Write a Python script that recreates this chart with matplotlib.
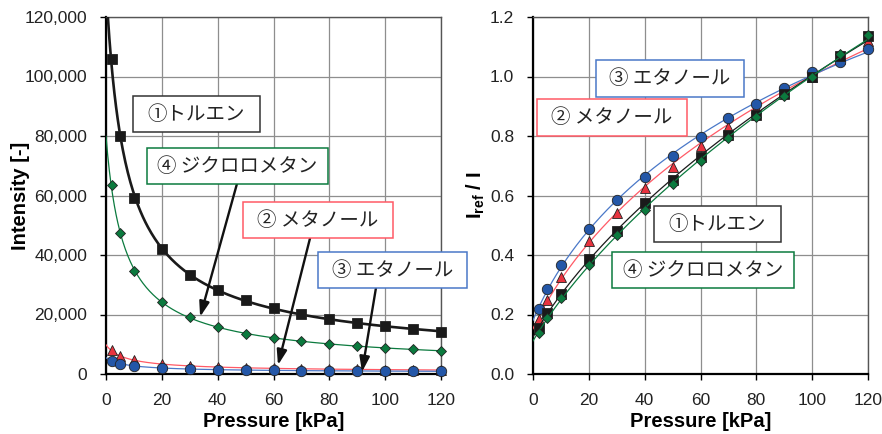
import numpy as np
import matplotlib
matplotlib.use("Agg")
import matplotlib.pyplot as plt
from matplotlib.patches import Rectangle

plt.rcParams['font.family'] = ['Liberation Sans', 'DejaVu Sans']
plt.rcParams['mathtext.fontset'] = 'custom'
plt.rcParams['mathtext.rm'] = 'Liberation Sans'
plt.rcParams['mathtext.bf'] = 'Liberation Sans:bold'

# ---------------- data ----------------
pressure = [2, 5, 10, 20, 30, 40, 50, 60, 70, 80, 90, 100, 110, 120]

# Intensity [-] (left)
int_toluene = [106000, 80000, 59000, 42000, 33300, 28400, 24800, 22300, 20100, 18600, 17000, 16100, 15100, 14100]
int_dcm = [63500, 47400, 34700, 24100, 19000, 15800, 13600, 12200, 11000, 10200, 9400, 8900, 8250, 7600]
int_methanol = [8000, 6000, 4600, 3300, 2700, 2350, 2100, 1900, 1770, 1650, 1550, 1470, 1390, 1310]
int_ethanol = [4500, 3500, 2650, 2000, 1660, 1480, 1330, 1230, 1140, 1080, 1020, 960, 930, 900]

# I_ref / I (right)
rat_toluene = [0.154, 0.204, 0.268, 0.386, 0.482, 0.576, 0.652, 0.730, 0.803, 0.870, 0.940, 1.000, 1.070, 1.135]
rat_dcm = [0.139, 0.187, 0.254, 0.366, 0.467, 0.551, 0.638, 0.715, 0.792, 0.865, 0.935, 0.999, 1.075, 1.139]
rat_methanol = [0.184, 0.249, 0.325, 0.447, 0.540, 0.624, 0.697, 0.767, 0.831, 0.893, 0.945, 1.000, 1.060, 1.120]
rat_ethanol = [0.217, 0.285, 0.365, 0.487, 0.584, 0.661, 0.732, 0.797, 0.859, 0.907, 0.960, 1.015, 1.048, 1.092]

labels = {'toluene': '①トルエン', 'methanol': '② メタノール',
          'ethanol': '③ エタノール', 'dcm': '④ ジクロロメタン'}

x_ticks = [0, 20, 40, 60, 80, 100, 120]
y_ticks_left = [0, 20000, 40000, 60000, 80000, 100000, 120000]
y_ticks_right = [0.0, 0.2, 0.4, 0.6, 0.8, 1.0, 1.2]

# ---------------- styles ----------------
C_BLACK = '#1a1a1a'
C_GREEN = '#0b7a3e'
C_RED = '#e8333f'
C_BLUE = '#2457a8'
L_RED = '#ff5a66'
L_BLUE = '#4a78c8'
JP = ['Noto Sans CJK JP', 'DejaVu Sans']

fig = plt.figure(figsize=(8.82, 4.34), dpi=100)
axL = fig.add_axes([106/882, 60/434, 335/882, 357/434])
axR = fig.add_axes([533/882, 60/434, 335/882, 357/434])

P = np.array(pressure, dtype=float)
Pf = np.linspace(0, 120, 400)
OFFSET = 6.0


def fit_curve(x, y):
    u = np.log(np.asarray(x, dtype=float) + OFFSET)
    coef = np.polyfit(u, np.log(np.asarray(y, dtype=float)), 2)
    return np.exp(np.polyval(coef, np.log(Pf + OFFSET)))


def style_axes(ax):
    ax.set_xlim(0, 120)
    ax.set_xticks(x_ticks)
    ax.grid(True, color='#8e8e8e', lw=0.9)
    ax.set_axisbelow(True)
    ax.tick_params(direction='out', length=4.5, width=1, colors='black',
                   labelsize=12.5, labelcolor='#222222', pad=9)
    for s in ['left', 'bottom']:
        ax.spines[s].set_color('black')
        ax.spines[s].set_linewidth(1.6)
    for s in ['top', 'right']:
        ax.spines[s].set_color('#555555')
        ax.spines[s].set_linewidth(1.0)
    ax.set_xlabel('Pressure [kPa]', fontsize=14.5, fontweight='bold', labelpad=3)


# ---------------- left ----------------
series_left = [
    (int_dcm, C_GREEN, C_GREEN, 'D', 5.5, 0.9, 4),
    (int_toluene, C_BLACK, C_BLACK, 's', 7.5, 1.9, 5),
    (int_methanol, C_RED, L_RED, '^', 7.5, 0.9, 3),
    (int_ethanol, C_BLUE, L_BLUE, 'o', 7.5, 0.9, 3.5),
]
for vals, mc, lc, mk, ms, lw, z in series_left:
    curve = fit_curve(P, vals)
    axL.plot(Pf, curve, color=lc, lw=lw, zorder=z, clip_on=True)
    axL.plot(P, vals, ls='none', marker=mk, ms=ms, mfc=mc, mec='#222222',
             mew=0.6, zorder=z + 0.1, clip_on=False)

axL.set_ylim(0, 120000)
axL.set_yticks(y_ticks_left)
axL.set_yticklabels([f'{v:,}' for v in y_ticks_left])
style_axes(axL)
axL.set_ylabel('Intensity [-]', fontsize=14.5, fontweight='bold', labelpad=-4)


def box(ax, x0, x1, y0, y1, text, ec):
    ax.add_patch(Rectangle((x0, y0), x1 - x0, y1 - y0, transform=ax.transAxes,
                           fc='white', ec=ec, lw=1.1, zorder=8, clip_on=False))
    ax.text((x0 + x1) / 2, (y0 + y1) / 2, text, transform=ax.transAxes,
            ha='center', va='center', fontsize=14, family=JP, color='#222222',
            zorder=9, clip_on=False)


def fx(px, x0):
    return (px - x0) / 335.0


def fy(py):
    return (374 - py) / 357.0


box(axL, fx(133, 106), fx(260, 106), fy(132), fy(96), labels['toluene'], '#333333')
box(axL, fx(147, 106), fx(328, 106), fy(184), fy(148), labels['dcm'], C_GREEN)
box(axL, fx(243, 106), fx(393, 106), fy(238), fy(202), labels['methanol'], L_RED)
box(axL, fx(318, 106), fx(467, 106), fy(288), fy(252), labels['ethanol'], L_BLUE)

arrows = [((46.9, 63900), (33.7, 19200)),
          ((73.1, 45700), (61.6, 3000)),
          ((96.7, 28900), (91.7, 700))]
for start, end in arrows:
    axL.annotate('', xy=end, xytext=start,
                 arrowprops=dict(arrowstyle='-|>,head_length=0.9,head_width=0.3',
                                 color='#111111', lw=1.7, shrinkA=0, shrinkB=0),
                 zorder=7)

# ---------------- right ----------------
series_right = [
    (rat_methanol, C_RED, L_RED, '^', 7.5, 0.9, 3),
    (rat_ethanol, C_BLUE, L_BLUE, 'o', 7.5, 0.9, 4),
    (rat_toluene, C_BLACK, C_BLACK, 's', 7.0, 0.9, 5),
    (rat_dcm, C_GREEN, C_GREEN, 'D', 5.5, 0.9, 6),
]
for vals, mc, lc, mk, ms, lw, z in series_right:
    curve = fit_curve(P, vals)
    axR.plot(Pf, curve, color=lc, lw=lw, zorder=z)
    axR.plot(P, vals, ls='none', marker=mk, ms=ms, mfc=mc, mec='#222222',
             mew=0.6, zorder=z + 0.1, clip_on=False)

axR.set_ylim(0, 1.2)
axR.set_yticks(y_ticks_right)
axR.set_yticklabels([f'{v:.1f}' for v in y_ticks_right])
style_axes(axR)
axR.set_ylabel(r'$\mathbf{I_{ref}}$ / I', fontsize=14.5, fontweight='bold', labelpad=2)

box(axR, fx(596, 533), fx(744, 533), fy(97), fy(60), labels['ethanol'], L_BLUE)
box(axR, fx(537, 533), fx(687, 533), fy(136), fy(99), labels['methanol'], L_RED)
box(axR, fx(654, 533), fx(781, 533), fy(242), fy(206), labels['toluene'], '#333333')
box(axR, fx(612, 533), fx(794, 533), fy(288), fy(252), labels['dcm'], C_GREEN)

fig.savefig('out.png', dpi=100)
